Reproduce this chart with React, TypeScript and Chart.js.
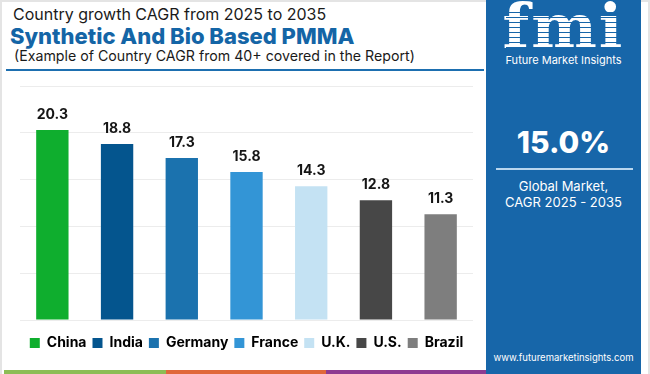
import React, { useEffect, useRef } from "react";
import { Chart, registerables } from "chart.js";

Chart.register(...registerables);

const categories = ["China", "India", "Germany", "France", "U.K.", "U.S.", "Brazil"];
const cagrValues = [20.3, 18.8, 17.3, 15.8, 14.3, 12.8, 11.3];
const barColors = ["#0fae2e", "#04558e", "#1b72ae", "#3395d6", "#c4e2f3", "#474747", "#7e7e7e"];
const yTicks = [0, 5, 10, 15, 20, 25];

const FONT = "Inter, 'Open Sans', sans-serif";
const PANEL = "#1766a9";

const valueLabelPlugin = {
  id: "valueLabels",
  afterDatasetsDraw(chart: any) {
    const { ctx } = chart;
    const meta = chart.getDatasetMeta(0);
    ctx.save();
    ctx.font = `bold 14px ${FONT}`;
    ctx.fillStyle = "#151515";
    ctx.textAlign = "center";
    ctx.textBaseline = "middle";
    meta.data.forEach((bar: any, i: number) => {
      ctx.fillText(cagrValues[i].toFixed(1), bar.x, bar.y - 15);
    });
    ctx.restore();
  },
};

export default function App() {
  const ref = useRef<HTMLCanvasElement>(null);

  useEffect(() => {
    document.body.style.margin = "0";
    const chart = new Chart(ref.current!, {
      type: "bar",
      data: {
        labels: categories,
        datasets: [
          {
            data: cagrValues,
            backgroundColor: barColors,
            barPercentage: 0.5,
            categoryPercentage: 1,
          },
        ],
      },
      options: {
        animation: false,
        responsive: false,
        maintainAspectRatio: false,
        layout: { padding: { left: 20, right: 13, top: 11, bottom: 10 } },
        scales: {
          x: {
            grid: { display: false },
            ticks: { display: false },
            border: { display: false },
            afterFit: (axis: any) => {
              axis.height = 10;
            },
          },
          y: {
            min: yTicks[0],
            max: yTicks[yTicks.length - 1],
            afterBuildTicks: (axis: any) => {
              axis.ticks = yTicks.map((v) => ({ value: v }));
            },
            grid: { color: "#ececec", drawTicks: false, lineWidth: 1 },
            ticks: { display: false },
            border: { display: false },
          },
        },
        plugins: {
          tooltip: { enabled: false },
          legend: {
            position: "bottom",
            labels: {
              boxWidth: 10,
              boxHeight: 10,
              padding: 6,
              color: "#151515",
              font: { family: FONT, size: 14, weight: "bold" },
              generateLabels: () =>
                categories.map((c, i) => ({
                  text: c,
                  fillStyle: barColors[i],
                  strokeStyle: barColors[i],
                  lineWidth: 0,
                  hidden: false,
                  index: i,
                })),
            },
          },
        },
      },
      plugins: [valueLabelPlugin],
    });
    return () => chart.destroy();
  }, []);

  return (
    <div
      style={{
        position: "relative",
        width: 650,
        height: 374,
        background: "#fff",
        overflow: "hidden",
        fontFamily: FONT,
        boxSizing: "border-box",
      }}
    >
      <div style={{ position: "absolute", left: 0, top: 0, width: 650, height: 374, boxSizing: "border-box", border: "2px solid #e4e4e4", borderBottom: "none" }} />
      <div style={{ position: "absolute", left: 13, top: 4, fontSize: 16, color: "#1a1a1a", whiteSpace: "nowrap" }}>
        Country growth CAGR from 2025 to 2035
      </div>
      <div style={{ position: "absolute", left: 10, top: 23, fontSize: 22, fontWeight: 800, color: "#1465a6", whiteSpace: "nowrap" }}>
        Synthetic And Bio Based PMMA
      </div>
      <div style={{ position: "absolute", left: 14, top: 47, fontSize: 14.2, color: "#1a1a1a", whiteSpace: "nowrap" }}>
        (Example of Country CAGR from 40+ covered in the Report)
      </div>
      <div style={{ position: "absolute", left: 6, top: 69, width: 478, height: 2, background: "#1d6fb0" }} />

      <canvas ref={ref} width={486} height={295} style={{ position: "absolute", left: 0, top: 75 }} />

      <div style={{ position: "absolute", left: 4, top: 370, width: 162, height: 4, background: "#8cbd55" }} />
      <div style={{ position: "absolute", left: 166, top: 370, width: 160, height: 4, background: "#e0683a" }} />
      <div style={{ position: "absolute", left: 326, top: 370, width: 160, height: 4, background: "#8e3b91" }} />

      <div style={{ position: "absolute", left: 486, top: 0, width: 155, height: 374, background: PANEL, color: "#fff" }}>
        <div style={{ position: "absolute", left: 0, width: 155, top: -8, textAlign: "center", fontSize: 62, fontWeight: 900, fontFamily: "'DejaVu Serif', serif", letterSpacing: 2, lineHeight: "70px" }}>
          fmi
        </div>
        <div
          style={{
            position: "absolute",
            left: 20,
            width: 115,
            top: 8,
            height: 50,
            background: `repeating-linear-gradient(to bottom, transparent 0px, transparent 4px, ${PANEL} 4px, ${PANEL} 5px)`,
          }}
        />
        <div style={{ position: "absolute", left: 0, width: 155, top: 53, textAlign: "center", fontSize: 11, whiteSpace: "nowrap" }}>
          Future Market Insights
        </div>
        <div style={{ position: "absolute", left: 0, width: 155, top: 122, textAlign: "center", fontSize: 30, fontWeight: 800, lineHeight: "40px" }}>
          15.0%
        </div>
        <div style={{ position: "absolute", left: 10, top: 168, width: 137, height: 2, background: "#b9d6ee" }} />
        <div style={{ position: "absolute", left: 0, width: 155, top: 178, textAlign: "center", fontSize: 13, lineHeight: "16px" }}>
          Global Market,
          <br />
          CAGR 2025 - 2035
        </div>
        <div style={{ position: "absolute", left: 0, width: 155, top: 352, textAlign: "center", fontSize: 9.5, whiteSpace: "nowrap" }}>
          www.futuremarketinsights.com
        </div>
      </div>
    </div>
  );
}
